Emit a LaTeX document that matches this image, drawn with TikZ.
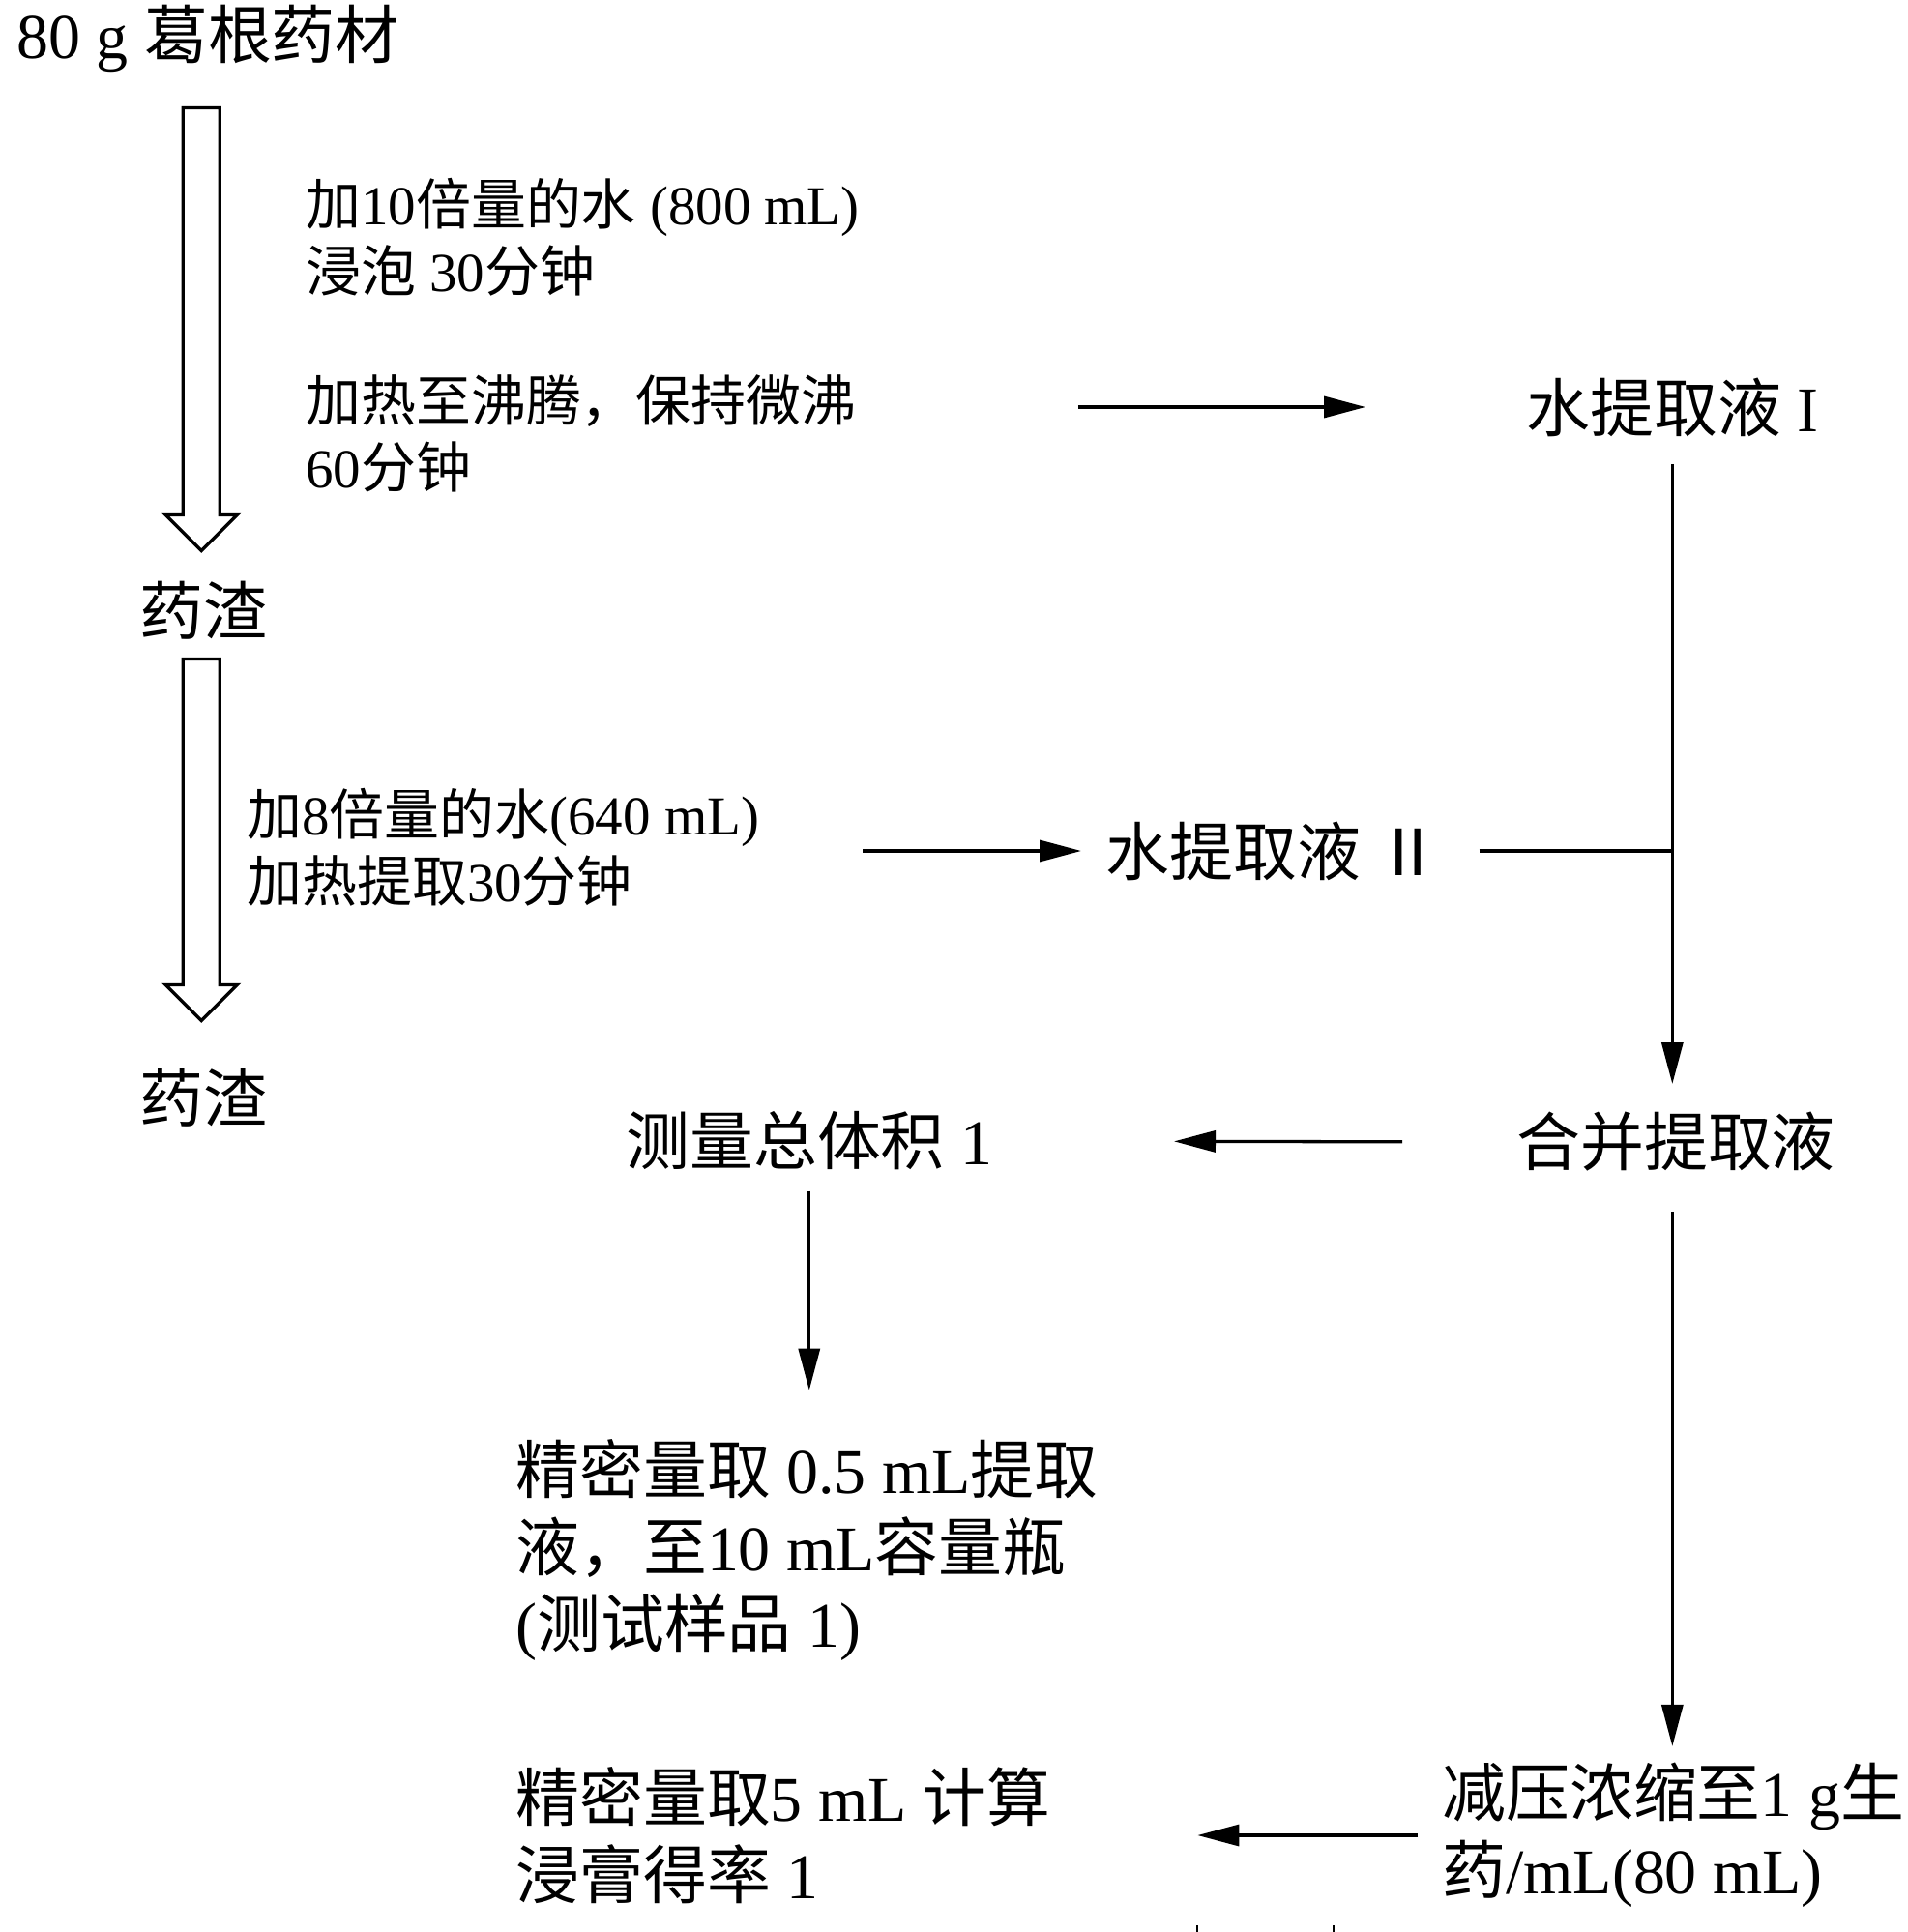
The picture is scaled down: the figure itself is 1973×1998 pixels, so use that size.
\documentclass[tikz,border=0pt]{standalone}
\usepackage{fontspec}
\setmainfont{Liberation Serif}
\newfontfamily\cjk{Noto Sans CJK SC}
% Chinese characters switch to the CJK font by themselves
\XeTeXinterchartokenstate=1
\newXeTeXintercharclass\zhclass
\newcount\zhcode
\zhcode="4E00
\loop
  \XeTeXcharclass\zhcode=\zhclass
  \ifnum\zhcode<"9FFF \advance\zhcode by 1
\repeat
\XeTeXcharclass"FF0C=\zhclass
\XeTeXcharclass"2161=\zhclass
\XeTeXinterchartoks 0 \zhclass = {\begingroup\cjk}
\XeTeXinterchartoks 4095 \zhclass = {\begingroup\cjk}
\XeTeXinterchartoks \zhclass 0 = {\endgroup}
\XeTeXinterchartoks \zhclass 4095 = {\endgroup}
\usepackage{tikz}
\usetikzlibrary{arrows.meta,calc}

\begin{document}
\begin{tikzpicture}[
  x=0.02cm, y=-0.02cm,
  lbl/.style={inner sep=0pt,anchor=west,align=left,font=\fontsize{37.5pt}{45.5pt}\selectfont},
  note/.style={lbl,font=\fontsize{32.4pt}{39.3pt}\selectfont},
  arr/.style={line width=1.87pt,-{Triangle[length=0.86cm,width=0.44cm]}},
  link/.style={line width=1.87pt},
  hollow/.style={line width=1.9pt,line join=miter}
]
  \useasboundingbox (0,0) rectangle (1973,1998);

  \node[lbl] (herb) at (17,40) {80 g 葛根药材};
  \node[note] (soak) at (316,245) {加10倍量的水 (800 mL)\\浸泡 30分钟};
  \node[note] (boil) at (316,448) {加热至沸腾，保持微沸\\60分钟};
  \node[lbl] (ext1) at (1578,421) {水提取液 I};
  \node[lbl] (dregs1) at (144,631) {药渣};

  \node[note] (again) at (255,876) {加8倍量的水(640 mL)\\加热提取30分钟};
  \node[lbl] (ext2) at (1143,880) {水提取液 Ⅱ};
  \node[lbl] (dregs2) at (144,1135) {药渣};

  \node[lbl] (merge) at (1568,1181) {合并提取液};
  \node[lbl] (total) at (647,1180) {测量总体积 1};
  \node[lbl] (sample) at (533,1603) {精密量取 0.5 mL提取\\液，至10 mL容量瓶\\(测试样品 1)};
  \node[lbl] (conc) at (1491,1898) {减压浓缩至1 g生\\药/mL(80 mL)};
  \node[lbl] (yield) at (533,1898) {精密量取5 mL 计算\\浸膏得率 1};

  % hollow process arrows
  \draw[hollow] (dregs1.north) ++(-2,-31) -- ++(-37,-37) -- ++(18,0) -- ++(0,-421)
    -- ++(38,0) -- ++(0,421) -- ++(18,0) -- cycle;
  \draw[hollow] (dregs2.north) ++(-2,-49) -- ++(-37,-37) -- ++(18,0) -- ++(0,-337)
    -- ++(38,0) -- ++(0,337) -- ++(18,0) -- cycle;

  \draw[arr,shorten <=4.58cm,shorten >=3.32cm] (boil.east |- ext1.west) -- (ext1.west);
  \draw[arr,shorten <=2.14cm,shorten >=0.5cm] (again.east |- ext2.west) -- (ext2.west);
  \draw[arr,shorten <=0.56cm,shorten >=0.58cm] (ext1.south) -- (ext1.south |- merge.north);
  \draw[link,shorten <=0.8cm] (ext2.east) -- (ext2.east -| ext1.south);
  \draw[arr,shorten <=2.36cm,shorten >=3.75cm] (merge.west) -- (total.east);
  \draw[arr,shorten <=0.42cm,shorten >=1cm] (total.south) -- (total.south |- sample.north);
  \draw[arr,shorten <=0.82cm,shorten >=0.34cm] (ext1.south |- merge.south) -- (ext1.south |- conc.north);
  \draw[arr,shorten <=0.5cm,shorten >=3.04cm] (conc.west) -- (yield.east);

  \draw[line width=0.6pt] (1238,1991) -- (1238,1998);
  \draw[line width=0.6pt] (1379,1991) -- (1379,1998);
\end{tikzpicture}
\end{document}
